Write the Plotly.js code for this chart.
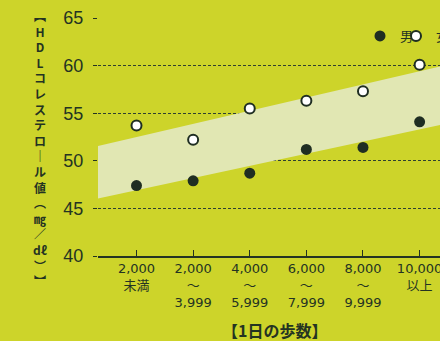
<!DOCTYPE html>
<html><head><meta charset="utf-8">
<script src="https://cdn.plot.ly/plotly-3.0.1.min.js"></script>
<style>html,body{margin:0;padding:0;background:#cdd42a;}#chart{width:440px;height:341px;}</style>
</head><body><div id="chart"></div>
<script>
// Data
const categories = ["2,000<br>未満", "2,000<br>～<br>3,999", "4,000<br>～<br>5,999", "6,000<br>～<br>7,999", "8,000<br>～<br>9,999", "10,000<br>以上"];
const maleValues = [47.4, 47.9, 48.7, 51.2, 51.4, 54.1];
const femaleValues = [53.7, 52.2, 55.5, 56.3, 57.3, 60.1];
const bandX = [-0.68, 5.36, 5.36, -0.68];
const bandY = [51.55, 59.9, 53.75, 46.05];
const seriesNames = ["男", "女"];
const yTitleChars = ["︻","H","D","L","コ","レ","ス","テ","ロ","｜","ル","値","︵","㎎","／","dℓ","︶","︼"];
const xTitle = "【1日の歩数】";

const dark = "#243322";
const xIdx = categories.map((c, i) => i);
const W = 342, H = 238, L = 98, B = 256;

const traces = [
  {x: bandX, y: bandY, mode: "lines", fill: "toself", fillcolor: "#e1e7b3",
   line: {width: 0}, hoverinfo: "skip", showlegend: false},
  {x: xIdx, y: maleValues, name: seriesNames[0], mode: "markers", legend: "legend",
   marker: {size: 11, color: "#1f2e22", line: {width: 0}}},
  {x: xIdx, y: femaleValues, name: seriesNames[1], mode: "markers", legend: "legend2",
   marker: {size: 10, color: "#ffffff", line: {width: 2, color: "#1f2e22"}}}
];

const annotations = [
  {text: "<b>" + yTitleChars.join("<br>") + "</b>", xref: "paper", yref: "paper",
   x: (40 - L) / W, y: (B - 148) / H, xanchor: "center", yanchor: "middle", showarrow: false,
   font: {family: "Noto Sans CJK JP", size: 12, color: dark}},
  {text: "<b>" + xTitle + "</b>", xref: "paper", yref: "paper", x: (274 - L) / W, y: (B - 330) / H,
   xanchor: "center", yanchor: "middle", showarrow: false,
   font: {family: "Noto Sans CJK JP", size: 16, color: dark}}
];

const legendBase = {orientation: "h", xanchor: "left", yanchor: "middle", y: (B - 36) / H,
  bgcolor: "rgba(0,0,0,0)", font: {family: "Noto Sans CJK JP", size: 13, color: dark}, itemwidth: 30};

const layout = {
  width: 440, height: 341,
  margin: {l: L, r: 0, t: 18, b: 85, autoexpand: false},
  paper_bgcolor: "#cdd42a", plot_bgcolor: "#cdd42a",
  showlegend: true,
  legend: Object.assign({}, legendBase, {x: (360 - L) / W}),
  legend2: Object.assign({}, legendBase, {x: (396 - L) / W}),
  xaxis: {
    range: [-0.68, 5.36], tickmode: "array", tickvals: xIdx, ticktext: categories,
    ticks: "inside", ticklen: 6, tickcolor: dark, tickwidth: 1, ticklabeloverflow: "allow",
    showline: true, linecolor: dark, linewidth: 1.5, showgrid: false, zeroline: false,
    tickfont: {family: "DejaVu Sans, Noto Sans CJK JP", size: 13, color: dark}
  },
  yaxis: {
    range: [40, 65], dtick: 5, tick0: 40,
    ticks: "outside", ticklen: 4, tickcolor: dark, ticklabelstandoff: 6,
    showline: false, zeroline: false,
    showgrid: true, gridcolor: "#2e4030", gridwidth: 1, griddash: "3px,2px",
    tickfont: {family: "Liberation Sans, Arial", size: 18, color: dark}
  },
  annotations: annotations
};

Plotly.newPlot("chart", traces, layout, {displayModeBar: false, staticPlot: true});
</script></body></html>
